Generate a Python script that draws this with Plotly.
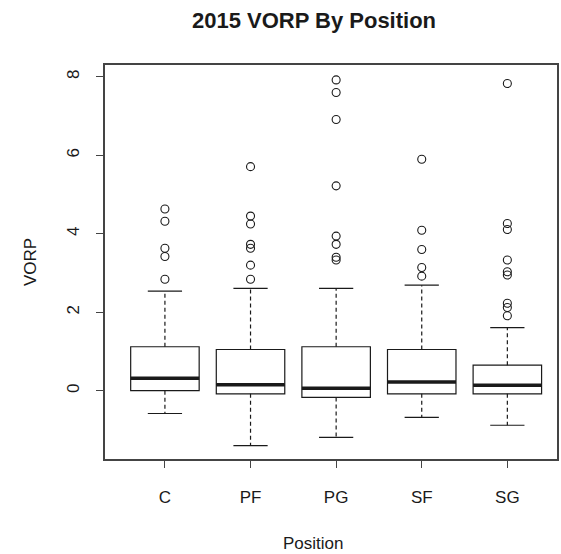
import plotly.graph_objects as go

positions = ["C", "PF", "PG", "SF", "SG"]
q1 = [0.0, -0.08, -0.17, -0.08, -0.08]
median = [0.32, 0.15, 0.06, 0.22, 0.14]
q3 = [1.12, 1.05, 1.12, 1.05, 0.65]
whisker_low = [-0.58, -1.40, -1.19, -0.68, -0.88]
whisker_high = [2.54, 2.61, 2.61, 2.69, 1.61]
outliers = {
    "C": [4.63, 4.32, 3.63, 3.42, 2.84],
    "PF": [5.71, 4.45, 4.25, 3.73, 3.63, 3.20, 2.84],
    "PG": [7.92, 7.60, 6.91, 5.22, 3.94, 3.73, 3.40, 3.33],
    "SF": [5.90, 4.09, 3.60, 3.14, 2.92],
    "SG": [7.83, 4.26, 4.11, 3.33, 3.03, 2.95, 2.23, 2.12, 1.91],
}

xs = list(range(1, len(positions) + 1))
box_w = 0.8
cap_w = 0.4
ink = "#1a1a1a"
font = "Liberation Sans, Arial, sans-serif"

fig = go.Figure()

# boxes (whiskers drawn separately as dashed lines)
fig.add_trace(go.Box(
    x=xs, q1=q1, median=median, q3=q3, lowerfence=q1, upperfence=q3,
    width=box_w, fillcolor="white", line=dict(color=ink, width=1.2),
    boxpoints=False, hoverinfo="skip", showlegend=False,
))

# dashed whiskers
wx, wy = [], []
for x, a, b, lo, hi in zip(xs, q1, q3, whisker_low, whisker_high):
    wx += [x, x, None, x, x, None]
    wy += [b, hi, None, a, lo, None]
fig.add_trace(go.Scatter(x=wx, y=wy, mode="lines",
                         line=dict(color=ink, width=1.2, dash="4px,3px"),
                         showlegend=False, hoverinfo="skip"))

# whisker caps
cx, cy = [], []
for x, lo, hi in zip(xs, whisker_low, whisker_high):
    cx += [x - cap_w / 2, x + cap_w / 2, None, x - cap_w / 2, x + cap_w / 2, None]
    cy += [hi, hi, None, lo, lo, None]
fig.add_trace(go.Scatter(x=cx, y=cy, mode="lines",
                         line=dict(color=ink, width=1.2),
                         showlegend=False, hoverinfo="skip"))

# thick medians
mx, my = [], []
for x, m in zip(xs, median):
    mx += [x - box_w / 2, x + box_w / 2, None]
    my += [m, m, None]
fig.add_trace(go.Scatter(x=mx, y=my, mode="lines",
                         line=dict(color=ink, width=3.5),
                         showlegend=False, hoverinfo="skip"))

# outliers
ox, oy = [], []
for x, p in zip(xs, positions):
    for v in outliers[p]:
        ox.append(x)
        oy.append(v)
fig.add_trace(go.Scatter(x=ox, y=oy, mode="markers",
                         marker=dict(symbol="circle-open", size=8,
                                     color=ink, line=dict(width=1.1)),
                         showlegend=False))

W, H = 561, 554
L, R, T, B = 105, 2, 65, 95
pw, ph = W - L - R, H - T - B
fig.update_layout(
    width=W, height=H,
    margin=dict(l=L, r=R, t=T, b=B),
    paper_bgcolor="white", plot_bgcolor="white",
    font=dict(family=font, size=17, color=ink),
    title=dict(text="<b>2015 VORP By Position</b>", x=314 / W,
               xanchor="center", y=1 - 20 / H, yanchor="middle",
               font=dict(size=22, family=font, color=ink)),
    annotations=[dict(text="Position", xref="paper", yref="paper",
                      x=(314 - L) / pw, y=-(543 - (H - B)) / ph,
                      xanchor="center", yanchor="middle", showarrow=False,
                      font=dict(size=17, family=font, color=ink))],
)
fig.update_xaxes(
    range=[0.3, 5.58], tickvals=xs, ticktext=positions,
    showgrid=False, zeroline=False,
    showline=True, mirror=True, linecolor="#444", linewidth=1.5,
    ticks="outside", ticklen=7, tickcolor="#444", tickwidth=1,
    ticklabelstandoff=15,
)
fig.update_yaxes(
    range=[-1.74, 8.30], tickvals=[0, 2, 4, 6, 8],
    showgrid=False, zeroline=False,
    showline=True, mirror=True, linecolor="#444", linewidth=1.5,
    ticks="outside", ticklen=7, tickcolor="#444", tickwidth=1,
    tickangle=-90, ticklabelstandoff=10,
    title=dict(text="VORP", standoff=24, font=dict(size=17)),
)

fig.write_html(
    "out.html",
    config={"displayModeBar": False},
    post_script="document.body.style.margin='0';"
                "document.documentElement.style.overflow='hidden';",
)
